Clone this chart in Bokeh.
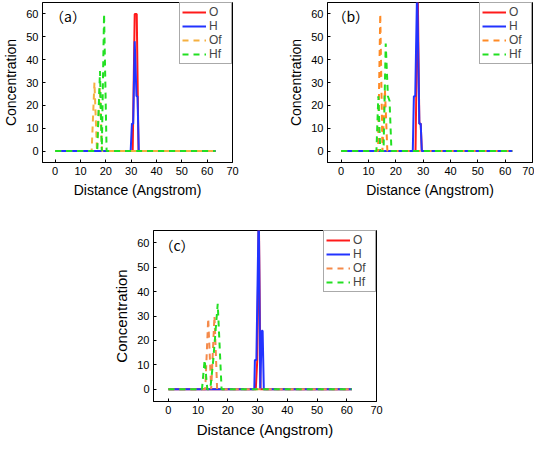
from bokeh.plotting import figure
from bokeh.layouts import column, row, Spacer
from bokeh.models import Label, Range1d, Legend
from bokeh.embed import file_html
from bokeh.resources import INLINE

# ---------------- data ----------------
x_ticks = [0, 10, 20, 30, 40, 50, 60, 70]
y_ticks = [0, 10, 20, 30, 40, 50, 60]
series_names = ["O", "H", "Of", "Hf"]
panel_tags = ["（a）", "（b）", "（c）"]

# panel (a)
a_O_x = [0, 30.6, 31.4, 32.2, 32.9, 63.3]
a_O_y = [0, 0, 60, 60, 0, 0]
a_H_x = [0, 29.8, 30.3, 30.8, 31.4, 32.1, 32.5, 33.0, 63.3]
a_H_y = [0, 0, 12, 12, 48, 24, 24, 0, 0]
a_Of_x = [0, 14.4, 15.5, 16.5, 17.6, 18.5, 63.3]
a_Of_y = [0, 0, 30, 0, 28, 0, 0]
a_Hf_x = [0, 16.6, 17.7, 18.4, 19.3, 20.3, 63.3]
a_Hf_y = [0, 0, 35, 0, 60, 0, 0]

# panel (b)
b_O_x = [0, 27.2, 28.0, 28.6, 29.1, 29.5, 62.6]
b_O_y = [0, 0, 72, 12, 12, 0, 0]
b_H_x = [0, 26.2, 26.6, 27.1, 27.8, 28.6, 29.1, 29.5, 62.6]
b_H_y = [0, 0, 24, 24, 72, 12, 12, 0, 0]
b_Of_x = [0, 13.5, 14.3, 15.1, 16.0, 16.9, 62.6]
b_Of_y = [0, 0, 60, 0, 27, 0, 0]
b_Hf_x = [0, 12.9, 13.6, 14.3, 15.5, 16.3, 17.1, 17.7, 18.4, 62.6]
b_Hf_y = [0, 0, 24, 0, 0, 47, 24, 22, 0, 0]

# panel (c)
c_O_x = [0, 29.4, 29.9, 30.4, 31.0, 61.7]
c_O_y = [0, 0, 12, 75, 0, 0]
c_H_x = [0, 28.9, 29.1, 29.6, 30.4, 30.9, 31.4, 31.7, 32.1, 61.7]
c_H_y = [0, 0, 12, 12, 75, 0, 24, 24, 0, 0]
c_Of_x = [0, 12.4, 13.4, 14.4, 15.5, 16.4, 61.7]
c_Of_y = [0, 0, 29, 0, 30, 0, 0]
c_Hf_x = [0, 11.3, 12.2, 13.1, 14.1, 15.1, 16.6, 17.9, 61.7]
c_Hf_y = [0, 0, 12, 0, 0, 12, 35, 0, 0]

FONT = "Arial"


def make_panel(tag, data, of_color, width, height, mb, label_fs, tag_x):
    p = figure(width=width, height=height, x_range=Range1d(-5, 70), y_range=Range1d(-5, 65),
               output_backend="svg", toolbar_location=None,
               min_border_left=mb[0], min_border_right=mb[1],
               min_border_top=mb[2], min_border_bottom=mb[3])
    p.xgrid.visible = False
    p.ygrid.visible = False
    p.outline_line_color = "black"
    p.outline_line_alpha = 1.0
    p.outline_line_width = 1
    p.background_fill_color = "white"
    p.border_fill_color = "white"
    p.xaxis.ticker = x_ticks
    p.yaxis.ticker = y_ticks
    p.xaxis.axis_label = "Distance (Angstrom)"
    p.yaxis.axis_label = "Concentration"
    for ax in (p.xaxis, p.yaxis):
        ax.axis_line_color = "black"
        ax.major_tick_line_color = "black"
        ax.major_tick_in = 3
        ax.major_tick_out = 0
        ax.minor_tick_line_color = None
        ax.major_label_text_font = FONT
        ax.major_label_text_font_size = "11px"
        ax.major_label_text_color = "black"
        ax.major_label_standoff = 4
        ax.axis_label_text_font = FONT
        ax.axis_label_text_font_size = label_fs
        ax.axis_label_text_font_style = "normal"
        ax.axis_label_text_color = "black"
        ax.axis_label_standoff = 4

    colors = ["#FF1A1A", "#2233FF", of_color, "#22E022"]
    dashes = ["solid", "solid", "6 5", "6 5"]
    items = []
    for name, (xs, ys), col, dash in zip(series_names, data, colors, dashes):
        r = p.line(xs, ys, line_color=col, line_width=2, line_dash=dash)
        items.append((name, [r]))
    leg = Legend(items=items, location="top_right", margin=0, padding=2, spacing=0,
                 label_height=12, glyph_height=12, glyph_width=24, label_standoff=3,
                 label_text_font=FONT, label_text_font_size="12px",
                 border_line_color="#555555", border_line_width=1,
                 background_fill_color="white", background_fill_alpha=1.0)
    p.add_layout(leg)
    p.add_layout(Label(x=tag_x, y=59, text=tag, text_font="Noto Sans CJK SC",
                       text_font_size="14px", text_baseline="middle", text_align="left",
                       text_color="black"))
    return p


pa = make_panel(panel_tags[0],
                [(a_O_x, a_O_y), (a_H_x, a_H_y), (a_Of_x, a_Of_y), (a_Hf_x, a_Hf_y)],
                "#F5B040", 272, 207, (5, 40, 2, 45), "14px", -2.0)
pb = make_panel(panel_tags[1],
                [(b_O_x, b_O_y), (b_H_x, b_H_y), (b_Of_x, b_Of_y), (b_Hf_x, b_Hf_y)],
                "#FF8A25", 262, 207, (55, 2, 2, 45), "14px", -3.2)
pc = make_panel(panel_tags[2],
                [(c_O_x, c_O_y), (c_H_x, c_H_y), (c_Of_x, c_Of_y), (c_Hf_x, c_Hf_y)],
                "#F58A4A", 285, 233, (46, 16, 23, 38), "15px", -3.0)

layout = column(row(pa, pb), row(Spacer(width=107, height=233), pc))

open("out.html", "w").write(file_html(layout, INLINE))
